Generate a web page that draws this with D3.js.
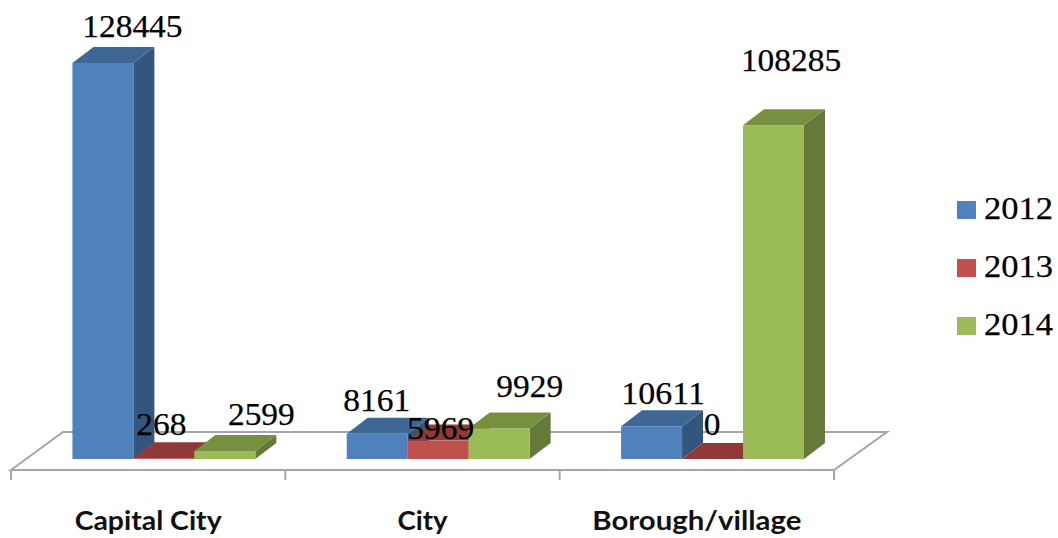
<!DOCTYPE html>
<html>
<head>
<meta charset="utf-8">
<script src="https://cdn.jsdelivr.net/npm/d3@7"></script>
<style>
  html, body { margin: 0; padding: 0; background: #fff; overflow: hidden; }
  .value { font-family: "Liberation Serif", serif; font-size: 32px; fill: #000; stroke: #000; stroke-width: 0.25px; }
  .category { font-family: Lato, sans-serif; font-size: 27px; font-weight: 700; fill: #111; }
</style>
</head>
<body>
<svg id="chart" width="1058" height="538"></svg>
<script>
// ======================
// DATA
// ======================
const categories = ["Capital City", "City", "Borough/village"];
const years = ["2012", "2013", "2014"];
const values2012 = [128445, 8161, 10611];
const values2013 = [268, 5969, 0];
const values2014 = [2599, 9929, 108285];

// ======================
// LAYOUT
// ======================
const svg = d3.select("#chart");
const floorFront = { left: 11, right: 834, y: 470 };
const floorBack = { left: 63, right: 887, y: 432 };
const baseY = 459;
const depthX = 21;
const depthY = 16;
const digitWidth = 16.7;
const categoryWidths = [147, 50, 209];

// Hand placed labels in the source, offsets from the bar's front top-left corner
const labelDx = [[60, 30, 42], [28, 33, 30], [67, 61, 48]];
const labelDy = [[-26, -23, -22], [-23, -2, -24], [-26, -31, -54]];

const colors = {
  "2012": { front: "#4f81bd", top: "#3e6795", side: "#33567f" },
  "2013": { front: "#c0504d", top: "#8f3a38", side: "#7d3331" },
  "2014": { front: "#9bbb59", top: "#76903f", side: "#657a38" }
};

const x0 = d3.scaleBand().domain(categories).range([26.7, 849.7]).paddingInner(1 / 3).paddingOuter(1 / 6);
const x1 = d3.scaleBand().domain(years).range([0, x0.bandwidth()]);
const y = d3.scaleLinear().domain([0, 128445]).range([baseY, 63]);
const tickX = d3.scaleLinear().domain([0, categories.length]).range([floorFront.left, floorFront.right]);

// ======================
// FLOOR
// ======================
const floorPoints = [
  [floorFront.left, floorFront.y], [floorBack.left, floorBack.y],
  [floorBack.right, floorBack.y], [floorFront.right, floorFront.y]
];
svg.append("polygon")
  .attr("points", floorPoints.join(" "))
  .attr("fill", "#fff")
  .attr("stroke", "#a6a6a6")
  .attr("stroke-width", 2);

svg.selectAll(".tick-mark")
  .data(d3.range(categories.length + 1))
  .join("line")
  .attr("class", "tick-mark")
  .attr("x1", d => tickX(d))
  .attr("x2", d => tickX(d))
  .attr("y1", floorFront.y)
  .attr("y2", floorFront.y + 10)
  .attr("stroke", "#a6a6a6")
  .attr("stroke-width", 2);

// ======================
// BARS
// ======================
const series = [values2012, values2013, values2014];
const bars = [];
categories.forEach((cat, c) => {
  years.forEach((year, s) => {
    bars.push({ cat, c, year, s, value: series[s][c] });
  });
});

const barG = svg.selectAll(".bar")
  .data(bars)
  .join("g")
  .attr("class", "bar");

barG.append("polygon")
  .attr("fill", d => colors[d.year].side)
  .attr("points", d => {
    const xr = x0(d.cat) + x1(d.year) + x1.bandwidth();
    const t = y(d.value);
    return [[xr, baseY], [xr + depthX, baseY - depthY], [xr + depthX, t - depthY], [xr, t]].join(" ");
  });

barG.append("polygon")
  .attr("fill", d => colors[d.year].top)
  .attr("points", d => {
    const xl = x0(d.cat) + x1(d.year);
    const xr = xl + x1.bandwidth();
    const t = y(d.value);
    return [[xl, t], [xl + depthX, t - depthY], [xr + depthX, t - depthY], [xr, t]].join(" ");
  });

barG.append("rect")
  .attr("fill", d => colors[d.year].front)
  .attr("x", d => x0(d.cat) + x1(d.year))
  .attr("y", d => y(d.value))
  .attr("width", x1.bandwidth())
  .attr("height", d => baseY - y(d.value));

// ======================
// VALUE LABELS
// ======================
svg.selectAll(".value-label")
  .data(bars)
  .join("text")
  .attr("class", "value value-label")
  .attr("text-anchor", "middle")
  .attr("x", d => x0(d.cat) + x1(d.year) + labelDx[d.s][d.c])
  .attr("y", d => y(d.value) + labelDy[d.s][d.c])
  .attr("textLength", d => String(d.value).length * digitWidth)
  .attr("lengthAdjust", "spacingAndGlyphs")
  .text(d => d.value);

// ======================
// CATEGORY LABELS
// ======================
svg.selectAll(".category")
  .data(categories)
  .join("text")
  .attr("class", "category")
  .attr("text-anchor", "middle")
  .attr("x", d => x0(d) + x0.bandwidth() / 2 - 15.7)
  .attr("y", 530)
  .attr("textLength", (d, i) => categoryWidths[i])
  .attr("lengthAdjust", "spacingAndGlyphs")
  .text(d => d);

// ======================
// LEGEND
// ======================
const legend = svg.selectAll(".legend")
  .data(years)
  .join("g")
  .attr("class", "legend")
  .attr("transform", (d, i) => `translate(957,${201 + i * 58})`);

legend.append("rect")
  .attr("width", 19)
  .attr("height", 18)
  .attr("fill", d => colors[d].front);

legend.append("text")
  .attr("class", "value")
  .attr("x", 27)
  .attr("y", 18)
  .attr("textLength", 69)
  .attr("lengthAdjust", "spacingAndGlyphs")
  .text(d => d);
</script>
</body>
</html>
